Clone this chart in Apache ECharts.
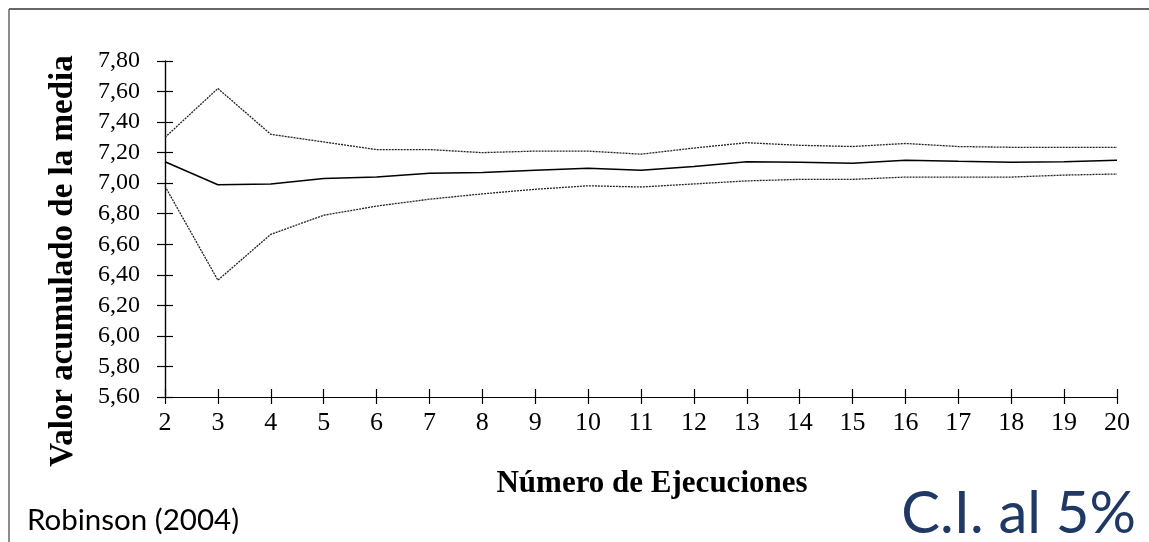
<!DOCTYPE html>
<html>
<head>
<meta charset="utf-8">
<script src="https://cdn.jsdelivr.net/npm/echarts@6/dist/echarts.min.js"></script>
<style>
html,body{margin:0;padding:0;background:#fff;}
#chart{width:1149px;height:542px;}
</style>
</head>
<body>
<div id="chart"></div>
<script>
var categories = ['2','3','4','5','6','7','8','9','10','11','12','13','14','15','16','17','18','19','20'];
var upperCI = [7.30, 7.62, 7.32, 7.27, 7.22, 7.22, 7.20, 7.21, 7.21, 7.19, 7.23, 7.265, 7.248, 7.24, 7.26, 7.24, 7.235, 7.235, 7.235];
var meanValues = [7.14, 6.99, 6.995, 7.03, 7.04, 7.065, 7.07, 7.085, 7.097, 7.084, 7.11, 7.14, 7.137, 7.13, 7.15, 7.143, 7.137, 7.14, 7.15];
var lowerCI = [6.98, 6.365, 6.665, 6.79, 6.85, 6.895, 6.93, 6.96, 6.983, 6.975, 6.995, 7.015, 7.025, 7.025, 7.04, 7.04, 7.04, 7.053, 7.06];
var yMin = 5.6, yMax = 7.8, yStep = 0.2;

var chart = echarts.init(document.getElementById('chart'), null, {renderer: 'canvas'});
var serif = 'Liberation Serif';
function fmtY(v){ return v.toFixed(2).replace('.', ','); }

var baseX = {
  type: 'category', data: categories, boundaryGap: false,
  axisLine: {lineStyle: {color: '#000', width: 1.2}},
  splitLine: {show: false}
};
var baseY = {
  type: 'value', min: yMin, max: yMax, interval: yStep,
  axisLine: {show: true, lineStyle: {color: '#000', width: 1.2}},
  splitLine: {show: false}
};

chart.setOption({
  animation: false,
  backgroundColor: '#fff',
  grid: {left: 165, right: 32, top: 61, bottom: 145, containLabel: false},
  xAxis: [
    Object.assign({}, baseX, {
      axisTick: {show: true, length: 7, inside: false, alignWithLabel: true, lineStyle: {color: '#000', width: 1.2}},
      axisLabel: {fontFamily: serif, fontSize: 26, color: '#000', margin: 13, interval: 0},
      name: 'Número de Ejecuciones', nameLocation: 'middle', nameGap: 71,
      nameTextStyle: {fontFamily: serif, fontSize: 31, fontWeight: 'bold', color: '#000', padding: [0, 0, 0, 22]}
    }),
    Object.assign({}, baseX, {
      position: 'bottom',
      axisTick: {show: true, length: 8, inside: true, lineStyle: {color: '#000', width: 1.2}},
      axisLabel: {show: false}
    })
  ],
  yAxis: [
    Object.assign({}, baseY, {
      axisTick: {show: true, length: 8, inside: false, lineStyle: {color: '#000', width: 1.2}},
      axisLabel: {fontFamily: serif, fontSize: 24, color: '#000', margin: 25, formatter: fmtY},
      name: 'Valor acumulado de la media', nameLocation: 'middle', nameGap: 85,
      nameTextStyle: {fontFamily: serif, fontSize: 33, fontWeight: 'bold', color: '#000', padding: [0, 64, 0, 0]}
    }),
    Object.assign({}, baseY, {
      position: 'left',
      axisTick: {show: true, length: 8, inside: true, lineStyle: {color: '#000', width: 1.2}},
      axisLabel: {show: false}
    })
  ],
  series: [
    {type: 'line', data: upperCI, symbol: 'none', lineStyle: {color: '#222', width: 1.3, type: [2, 1]}},
    {type: 'line', data: meanValues, symbol: 'none', lineStyle: {color: '#000', width: 1.5}},
    {type: 'line', data: lowerCI, symbol: 'none', lineStyle: {color: '#222', width: 1.3, type: [2, 1]}}
  ],
  graphic: [
    {type: 'line', shape: {x1: 9, y1: 9, x2: 1149, y2: 9}, style: {stroke: '#666', lineWidth: 2}},
    {type: 'line', shape: {x1: 9, y1: 9, x2: 9, y2: 542}, style: {stroke: '#666', lineWidth: 1.5}},
    {type: 'text', left: 27, top: 505, style: {text: 'Robinson (2004)', fontFamily: 'Lato', fontSize: 29.5, fill: '#000'}},
    {type: 'text', right: 13, top: 485, style: {text: 'C.I. al 5%', fontFamily: 'Lato', fontSize: 58, fill: '#203864'}}
  ]
});
</script>
</body>
</html>
